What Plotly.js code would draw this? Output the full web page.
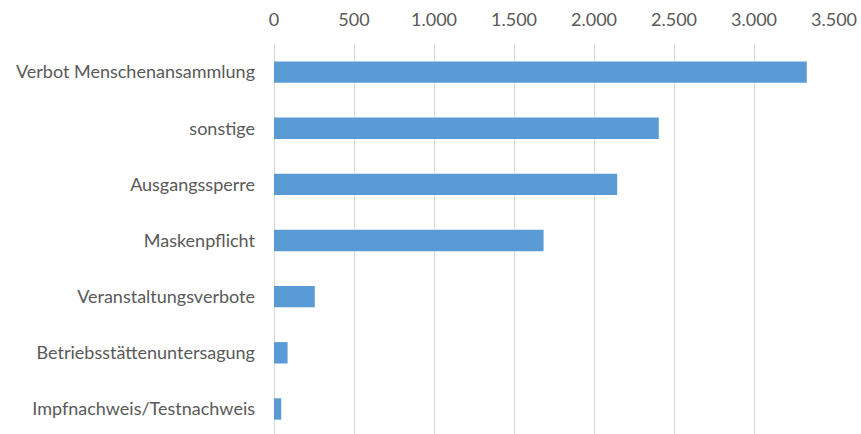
<!DOCTYPE html>
<html>
<head>
<meta charset="utf-8">
<script src="https://cdn.plot.ly/plotly-3.0.1.min.js"></script>
<style>html,body{margin:0;padding:0;background:#fff;}#chart{width:861px;height:434px;}</style>
</head>
<body>
<div id="chart"></div>
<script>
const categories = [
  "Verbot Menschenansammlung",
  "sonstige",
  "Ausgangssperre",
  "Maskenpflicht",
  "Veranstaltungsverbote",
  "Betriebsstättenuntersagung",
  "Impfnachweis/Testnachweis"
];
const values = [3330, 2405, 2145, 1685, 255, 85, 45];
const tickValues = [0, 500, 1000, 1500, 2000, 2500, 3000, 3500];

const trace = {
  type: "bar",
  orientation: "h",
  x: values,
  y: categories,
  marker: {color: "#5B9BD5", line: {width: 0}},
  hoverinfo: "x+y"
};

const layout = {
  width: 861,
  height: 434,
  margin: {l: 274, r: 27, t: 44, b: 0},
  paper_bgcolor: "#ffffff",
  plot_bgcolor: "#ffffff",
  separators: ",.",
  bargap: 0.62,
  showlegend: false,
  font: {family: "Lato, 'Open Sans', sans-serif", size: 18, color: "#595959"},
  xaxis: {
    side: "top",
    range: [0, 3500],
    tickvals: tickValues,
    tickformat: ",d",
    showgrid: true,
    gridcolor: "#D9D9D9",
    gridwidth: 1,
    zeroline: true,
    zerolinecolor: "#D9D9D9",
    zerolinewidth: 1,
    showline: false,
    ticks: "",
    ticklabelstandoff: 13,
    tickfont: {size: 18, color: "#595959"}
  },
  yaxis: {
    type: "category",
    range: [6.446, -0.5],
    showgrid: false,
    zeroline: false,
    showline: false,
    ticks: "",
    ticklabelstandoff: 18,
    tickfont: {size: 18, color: "#595959"}
  }
};

Plotly.newPlot("chart", [trace], layout, {displayModeBar: false, staticPlot: true});
</script>
</body>
</html>
